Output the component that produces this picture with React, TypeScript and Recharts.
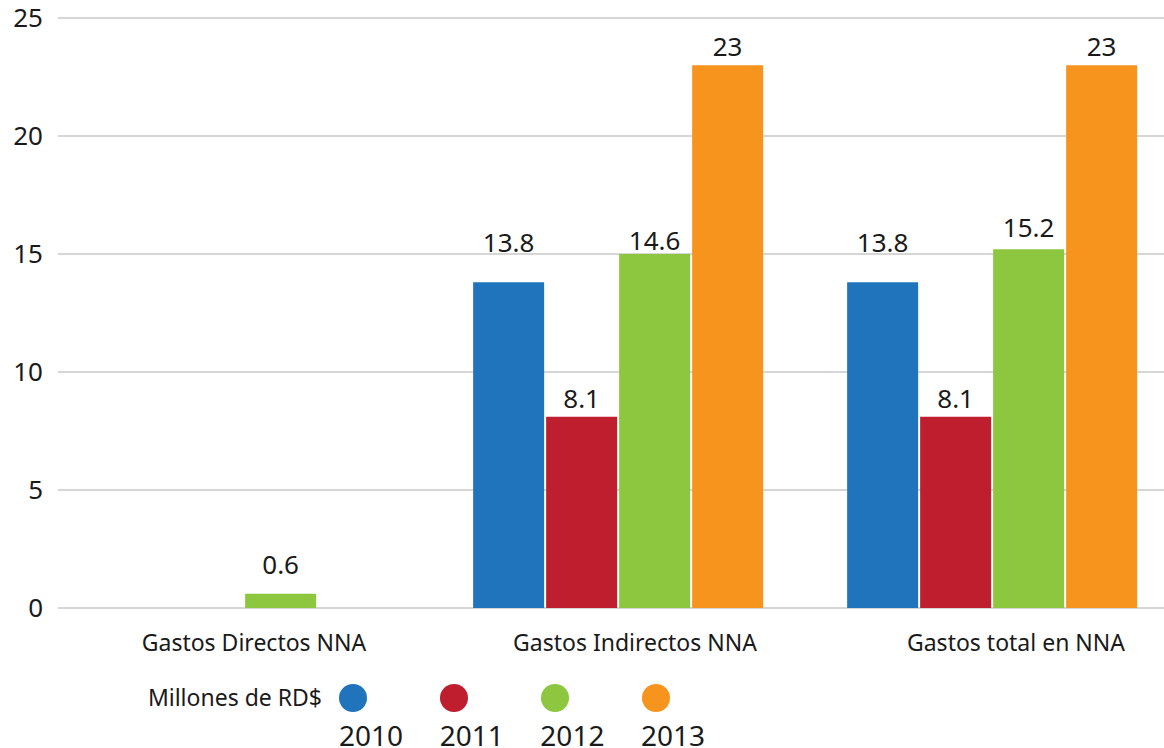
import React from 'react';
import {
  BarChart,
  Bar,
  XAxis,
  YAxis,
  CartesianGrid,
  LabelList,
} from 'recharts';

// Categorías y series (millones de RD$)
const categories = ['Gastos Directos NNA', 'Gastos Indirectos NNA', 'Gastos total en NNA'];
const years = ['2010', '2011', '2012', '2013'];
const colors = ['#1F74BC', '#BE1E2D', '#8DC63F', '#F7941D'];

const values2010 = [0, 13.8, 13.8];
const values2011 = [0, 8.1, 8.1];
const values2012 = [0.6, 15.0, 15.2];
const values2013 = [0, 23, 23];

// etiquetas tal como aparecen sobre las barras
const labels2010 = ['', '13.8', '13.8'];
const labels2011 = ['', '8.1', '8.1'];
const labels2012 = ['0.6', '14.6', '15.2'];
const labels2013 = ['', '23', '23'];

const yTicks = [0, 5, 10, 15, 20, 25];

const seriesValues = [values2010, values2011, values2012, values2013];
const seriesLabels = [labels2010, labels2011, labels2012, labels2013];

const chartData = categories.map((name, i) => {
  const row: any = { name };
  years.forEach((y, s) => {
    row[`y${y}`] = seriesValues[s][i];
    row[`l${y}`] = seriesLabels[s][i];
  });
  return row;
});

const FONT = '"Noto Sans", sans-serif';

// desplazamiento extra (px) de algunas etiquetas, por serie
// (las barras en cero no llegan al LabelList, por eso la serie 0 es uniforme)
const labelLift = [[21, 21, 21], [0, 0, 0], [11, -5, 3], [0, 0, 0]];

const CategoryTick = ({ x, y, payload, index }: any) => (
  <text
    x={x + 9 + index * 7}
    y={y}
    dy={43}
    textAnchor="middle"
    fontSize={23}
    fontFamily={FONT}
    fill="#1a1a1a"
  >
    {payload.value}
  </text>
);

const makeLabel = (s: number) => (props: any) => {
  const { x, y, width, value, index } = props;
  if (!value) return null;
  const lift = labelLift[s][index] ?? 0;
  return (
    <text
      x={x + width / 2}
      y={y - 9 - lift}
      textAnchor="middle"
      fontSize={26}
      fontFamily={FONT}
      fill="#1a1a1a"
    >
      {value}
    </text>
  );
};

export default function App() {
  return (
    <div
      style={{
        position: 'absolute',
        left: 0,
        top: 0,
        width: 1164,
        height: 748,
        overflow: 'hidden',
        background: '#fff',
        fontFamily: FONT,
      }}
    >
      <BarChart
        width={1180}
        height={748}
        data={chartData}
        margin={{ top: 18, right: 0, bottom: 0, left: 0 }}
        barCategoryGap="11%"
        barGap={2}
      >
        <CartesianGrid vertical={false} stroke="#c8c8c8" strokeWidth={1.5} />
        <XAxis
          dataKey="name"
          axisLine={false}
          tickLine={false}
          tickSize={0}
          tickMargin={0}
          height={140}
          tick={<CategoryTick />}
          interval={0}
        />
        <YAxis
          domain={[0, 25]}
          ticks={yTicks}
          axisLine={false}
          tickLine={false}
          width={58}
          tickMargin={9}
          tick={{ fontSize: 26, fill: '#1a1a1a', fontFamily: FONT }}
        />
        {years.map((y, s) => (
          <Bar key={y} dataKey={`y${y}`} fill={colors[s]} isAnimationActive={false}>
            <LabelList dataKey={`l${y}`} content={makeLabel(s)} />
          </Bar>
        ))}
      </BarChart>

      {/* Leyenda */}
      <div
        style={{
          position: 'absolute',
          left: 0,
          top: 682,
          width: 322,
          textAlign: 'right',
          fontSize: 23,
          color: '#1a1a1a',
          lineHeight: '30px',
        }}
      >
        Millones de RD$
      </div>
      {years.map((y, s) => (
        <React.Fragment key={y}>
          <div
            style={{
              position: 'absolute',
              left: 353 + s * 101 - 14,
              top: 684,
              width: 28,
              height: 28,
              borderRadius: '50%',
              background: colors[s],
            }}
          />
          <div
            style={{
              position: 'absolute',
              left: 371 + s * 100.7 - 40,
              top: 722,
              width: 80,
              textAlign: 'center',
              fontSize: 28,
              lineHeight: '26px',
              color: '#1a1a1a',
            }}
          >
            {y}
          </div>
        </React.Fragment>
      ))}
    </div>
  );
}
